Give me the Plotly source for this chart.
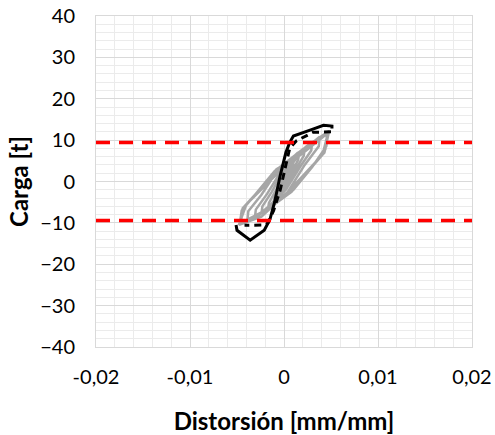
import plotly.graph_objects as go

# Gray hysteresis cycles (distortion [mm/mm], load [t])
gray_d = [0, 0.0005, 0.0010, 0.0009, 0.0004, -0.0002, -0.0007, -0.0011, -0.0010, -0.0004, 0.0002,
          0.0008, 0.0016, 0.0015, 0.0008, 0.0000, -0.0009, -0.0017, -0.0016, -0.0008, 0.0000,
          0.0010, 0.0022, 0.0021, 0.0012, 0.0001, -0.0011, -0.0024, -0.0023, -0.0013, -0.0002,
          0.0012, 0.0030, 0.0029, 0.0017, 0.0002, -0.0015, -0.0031, -0.0030, -0.0018, -0.0003,
          0.0015, 0.0038, 0.0037, 0.0022, 0.0004, -0.0018, -0.0039, -0.0038, -0.0024, -0.0006,
          0.0020, 0.0047, 0.0045, 0.0030, 0.0010, -0.0020, -0.0047, -0.0045, -0.0030, -0.0010,
          0.0020, 0.0046, 0.0044, 0.0028, 0.0008, -0.0022, -0.0046, -0.0044, -0.0028, -0.0008,
          0.0018, 0.0047, 0.0041, 0.0022, 0.0000, -0.0026, -0.0048, -0.0040, -0.0020, 0.0000,
          0.0024, 0.0048, 0.0043, 0.0025, 0.0003, -0.0024, -0.0047, -0.0042, -0.0024, -0.0004,
          0.0015]
gray_f = [0, 2.5, 4.5, 3.5, 1.0, -1.5, -3.5, -4.8, -3.8, -1.2, 1.5,
          4.0, 6.5, 5.2, 2.2, -1.0, -4.2, -6.5, -5.2, -2.0, 1.5,
          4.8, 7.8, 6.2, 2.8, -1.5, -5.0, -7.8, -6.0, -2.5, 2.0,
          5.5, 9.5, 7.5, 3.5, -2.0, -5.8, -8.8, -6.8, -3.0, 2.5,
          6.5, 10.8, 8.5, 4.0, -2.5, -6.8, -9.6, -7.2, -3.2, 3.0,
          7.5, 12.0, 8.5, 3.5, -2.0, -7.0, -10.2, -7.0, -3.0, 2.5,
          7.8, 11.6, 7.8, 3.0, -2.5, -7.5, -10.0, -6.5, -2.5, 3.0,
          6.5, 11.8, 6.5, 1.5, -3.5, -8.0, -10.5, -5.5, -1.0, 3.5,
          8.5, 12.2, 7.0, 2.5, -2.8, -8.5, -10.4, -6.0, -1.8, 3.0,
          7.0]

# Last cycle, solid branch
black_d = [-0.0051, -0.0050, -0.0036, -0.0021, -0.0015, -0.0010, -0.0004, 0.0002, 0.0006,
           0.0010, 0.0030, 0.0042, 0.0051, 0.0051]
black_f = [-10.5, -11.8, -14.2, -11.8, -9.2, -5.0, 1.5, 7.0, 9.4,
           11.0, 12.6, 13.6, 13.4, 12.8]

# Last cycle, dashed branch
dash_d = [0.0050, 0.0031, 0.0013, 0.0006, 0.0002, -0.0004, -0.0011, -0.0017, -0.0020, -0.0042]
dash_f = [12.0, 11.9, 9.8, 8.0, 4.0, -2.0, -7.0, -10.0, -10.5, -10.6]

# Reference load levels
ref_levels = [9.4, -9.4]
x_range = [-0.02, 0.02]

x_ticks = [-0.02, -0.01, 0, 0.01, 0.02]
x_ticktext = ["-0,02", "-0,01", "0", "0,01", "0,02"]
y_ticks = [-40, -30, -20, -10, 0, 10, 20, 30, 40]

fig = go.Figure()
fig.add_trace(go.Scatter(x=gray_d, y=gray_f, mode="lines",
                         line=dict(color="#A6A6A6", width=2.5), showlegend=False))
fig.add_trace(go.Scatter(x=dash_d, y=dash_f, mode="lines",
                         line=dict(color="black", width=3, dash="7px,5px"), showlegend=False))
fig.add_trace(go.Scatter(x=black_d, y=black_f, mode="lines",
                         line=dict(color="black", width=3), showlegend=False))
for lv in ref_levels:
    fig.add_trace(go.Scatter(x=x_range, y=[lv, lv], mode="lines",
                             line=dict(color="#FF0000", width=3.5, dash="14px,9px"),
                             showlegend=False))

font = "Lato, Calibri, Carlito, sans-serif"
fig.update_layout(
    width=495, height=435,
    margin=dict(l=96, r=23, t=16, b=88),
    paper_bgcolor="white", plot_bgcolor="white",
    font=dict(family=font, size=20, color="black"),
    showlegend=False,
)
fig.update_xaxes(
    range=x_range, tickvals=x_ticks, ticktext=x_ticktext, automargin=False,
    showgrid=True, gridcolor="#D9D9D9", gridwidth=1,
    minor=dict(dtick=0.002, showgrid=True, gridcolor="#EBEBEB", gridwidth=1),
    zeroline=True, zerolinecolor="#D9D9D9", zerolinewidth=1,
    showline=True, linecolor="#D9D9D9", linewidth=1, mirror=True,
    ticks="", ticklabelstandoff=12,
    title=dict(text="<b>Distorsión [mm/mm]</b>", font=dict(size=24), standoff=27),
)
fig.update_yaxes(
    range=[-40, 40], tickvals=y_ticks, automargin=False,
    showgrid=True, gridcolor="#D9D9D9", gridwidth=1,
    minor=dict(dtick=2, showgrid=True, gridcolor="#EBEBEB", gridwidth=1),
    zeroline=True, zerolinecolor="#D9D9D9", zerolinewidth=1,
    showline=True, linecolor="#D9D9D9", linewidth=1, mirror=True,
    ticks="", ticklabelstandoff=16,
    title=dict(text="<b>Carga [t]</b>", font=dict(size=24), standoff=4),
)

fig.write_html("out.html")
